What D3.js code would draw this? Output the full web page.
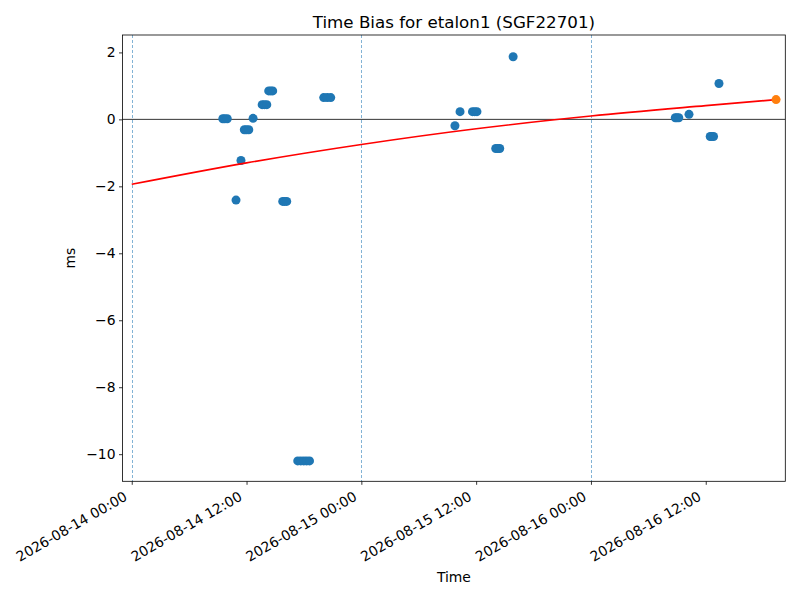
<!DOCTYPE html>
<html lang="en">

<head>
    <meta charset="UTF-8">
    <style type="text/css">
        body { margin: 0; background: white; }
        text { font-family: "DejaVu Sans", sans-serif; fill: black; }
        .axis path, .axis line { stroke: black; stroke-width: 0.8px; }
        .axis text { font-size: 13.9px; }
    </style>
</head>

<body>
    <div id="chart"></div>
    <script src="https://cdn.jsdelivr.net/npm/d3@7"></script>
    <script type="text/javascript">

        // observation times and time bias (ms)
        var obsTimes = [
            "2026-08-14T09:31", "2026-08-14T09:43", "2026-08-14T09:59",
            "2026-08-14T10:54", "2026-08-14T11:25",
            "2026-08-14T11:46", "2026-08-14T11:59", "2026-08-14T12:14",
            "2026-08-14T12:41",
            "2026-08-14T13:38", "2026-08-14T13:52", "2026-08-14T14:07",
            "2026-08-14T14:19", "2026-08-14T14:32", "2026-08-14T14:44",
            "2026-08-14T15:47", "2026-08-14T15:59", "2026-08-14T16:12",
            "2026-08-14T17:21", "2026-08-14T17:40", "2026-08-14T17:59", "2026-08-14T18:17", "2026-08-14T18:35",
            "2026-08-14T20:04", "2026-08-14T20:26", "2026-08-14T20:48",
            "2026-08-15T09:47", "2026-08-15T10:19",
            "2026-08-15T11:37", "2026-08-15T11:51", "2026-08-15T12:05",
            "2026-08-15T14:03", "2026-08-15T14:16", "2026-08-15T14:28",
            "2026-08-15T15:52",
            "2026-08-16T08:49", "2026-08-16T08:59", "2026-08-16T09:11",
            "2026-08-16T10:15",
            "2026-08-16T12:28", "2026-08-16T12:37", "2026-08-16T12:49",
            "2026-08-16T13:23"
        ];
        var obsBias = [
            0.02, 0.02, 0.02,
            -2.41, -1.23,
            -0.31, -0.31, -0.31,
            0.03,
            0.44, 0.44, 0.44,
            0.85, 0.85, 0.85,
            -2.45, -2.45, -2.45,
            -10.2, -10.2, -10.2, -10.2, -10.2,
            0.65, 0.65, 0.65,
            -0.19, 0.23,
            0.23, 0.23, 0.23,
            -0.87, -0.87, -0.87,
            1.87,
            0.05, 0.05, 0.05,
            0.15,
            -0.51, -0.51, -0.51,
            1.07
        ];

        // fitted trend
        var fitTimes = ["2026-08-14T00:00", "2026-08-14T12:00", "2026-08-15T00:00", "2026-08-15T12:00",
            "2026-08-16T00:00", "2026-08-16T12:00", "2026-08-16T19:21"];
        var fitBias = [-1.94, -1.30, -0.75, -0.28, 0.10, 0.41, 0.59];

        // predicted point
        var predTime = ["2026-08-16T19:21"];
        var predBias = [0.59];

        var dayLines = ["2026-08-14T00:00", "2026-08-15T00:00", "2026-08-16T00:00"];
        var xTicks = ["2026-08-14T00:00", "2026-08-14T12:00", "2026-08-15T00:00",
            "2026-08-15T12:00", "2026-08-16T00:00", "2026-08-16T12:00"];
        var yTicks = [2, 0, -2, -4, -6, -8, -10];
        var xRange = ["2026-08-13T23:02", "2026-08-16T20:19"];
        var yRange = [-10.81, 2.52];

        var parseT = d3.timeParse("%Y-%m-%dT%H:%M");
        var fmtT = d3.timeFormat("%Y-%m-%d %H:%M");

        var W = 800, H = 600;
        var margin = { top: 35, right: 14.7, bottom: 118.7, left: 122.5 },
            width = W - margin.left - margin.right,
            height = H - margin.top - margin.bottom;

        var svg = d3.select("#chart")
            .append("svg")
            .attr("width", W)
            .attr("height", H);

        var g = svg.append("g")
            .attr("transform", "translate(" + margin.left + "," + margin.top + ")");

        var x = d3.scaleTime()
            .domain(xRange.map(parseT))
            .range([0, width]);

        var y = d3.scaleLinear()
            .domain(yRange)
            .range([height, 0]);

        g.append("clipPath").attr("id", "clip")
            .append("rect").attr("width", width).attr("height", height);

        var plot = g.append("g").attr("clip-path", "url(#clip)");

        // day boundaries, snapped to the pixel grid so the dashes stay blue
        function snapX(d) {
            return Math.round(x(parseT(d)) + margin.left) + 0.5 - margin.left;
        }
        plot.selectAll(".day")
            .data(dayLines)
            .enter().append("line")
            .attr("x1", snapX)
            .attr("x2", snapX)
            .attr("y1", 0)
            .attr("y2", height)
            .attr("stroke", "#1f77b4")
            .attr("stroke-width", 0.8)
            .attr("stroke-dasharray", "3,2")
            .attr("opacity", 0.7);

        // zero line
        plot.append("line")
            .attr("x1", 0).attr("x2", width)
            .attr("y1", y(0)).attr("y2", y(0))
            .attr("stroke", "black")
            .attr("stroke-width", 0.8);

        var obs = obsTimes.map(function (t, i) { return { t: parseT(t), v: obsBias[i] }; });
        var fit = fitTimes.map(function (t, i) { return { t: parseT(t), v: fitBias[i] }; });

        plot.selectAll(".obs")
            .data(obs)
            .enter().append("circle")
            .attr("cx", function (d) { return x(d.t); })
            .attr("cy", function (d) { return y(d.v); })
            .attr("r", 4.5)
            .attr("fill", "#1f77b4");

        plot.append("path")
            .datum(fit)
            .attr("fill", "none")
            .attr("stroke", "red")
            .attr("stroke-width", 1.6)
            .attr("d", d3.line()
                .x(function (d) { return x(d.t); })
                .y(function (d) { return y(d.v); })
                .curve(d3.curveMonotoneX));

        g.selectAll(".pred")
            .data(predTime)
            .enter().append("circle")
            .attr("cx", function (d) { return x(parseT(d)); })
            .attr("cy", function (d, i) { return y(predBias[i]); })
            .attr("r", 4.5)
            .attr("fill", "#ff7f0e");

        // axes
        var xAxis = g.append("g")
            .attr("class", "axis")
            .attr("transform", "translate(0," + height + ")")
            .call(d3.axisBottom(x)
                .tickValues(xTicks.map(parseT))
                .tickFormat(fmtT)
                .tickSize(3.5)
                .tickSizeOuter(0));
        xAxis.select(".domain").remove();
        xAxis.selectAll("text")
            .attr("dy", null)
            .attr("y", 0)
            .style("text-anchor", "end")
            .attr("transform", "translate(-4,18) rotate(-30)");

        var yAxis = g.append("g")
            .attr("class", "axis")
            .call(d3.axisLeft(y)
                .tickValues(yTicks)
                .tickFormat(function (d) { return d < 0 ? "\u2212" + Math.abs(d) : d; })
                .tickSize(3.5)
                .tickPadding(3.5)
                .tickSizeOuter(0));
        yAxis.select(".domain").remove();

        g.append("rect")
            .attr("width", width)
            .attr("height", height)
            .attr("fill", "none")
            .attr("stroke", "black")
            .attr("stroke-width", 0.8);

        // labels
        svg.append("text")
            .attr("x", margin.left + width / 2)
            .attr("y", 28)
            .style("text-anchor", "middle")
            .style("font-size", "16.7px")
            .text("Time Bias for etalon1 (SGF22701)");

        svg.append("text")
            .attr("x", margin.left + width / 2)
            .attr("y", 582)
            .style("text-anchor", "middle")
            .style("font-size", "13.9px")
            .text("Time");

        svg.append("text")
            .attr("transform", "translate(75," + (margin.top + height / 2) + ") rotate(-90)")
            .style("text-anchor", "middle")
            .style("font-size", "13.9px")
            .text("ms");
    </script>
</body>

</html>
